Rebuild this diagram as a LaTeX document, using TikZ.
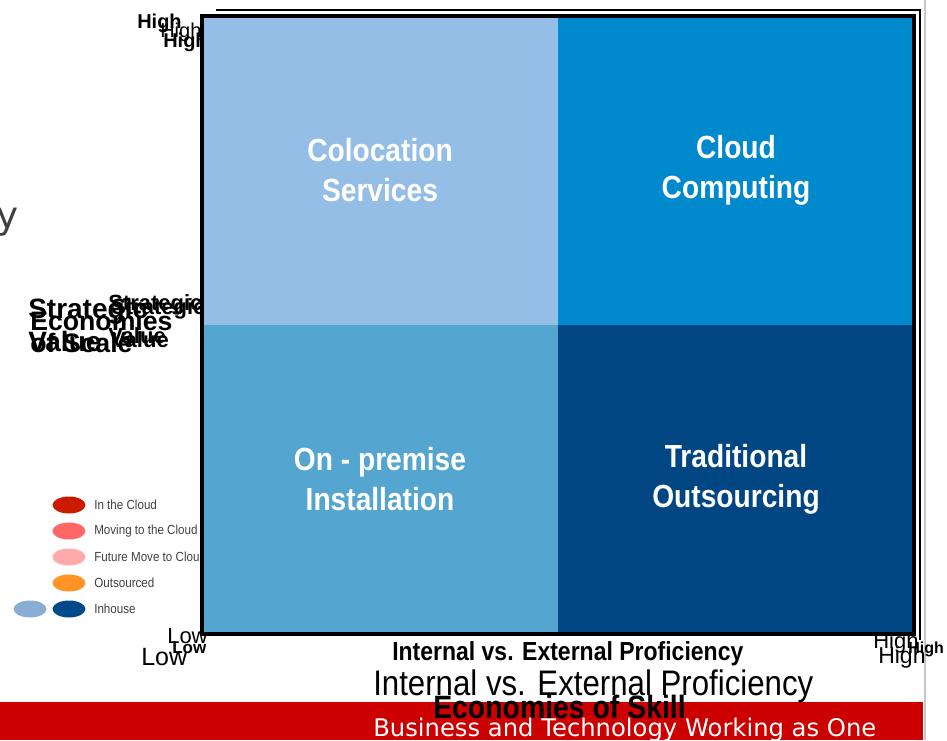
\documentclass[tikz,border=0pt]{standalone}
\usepackage{fontspec}
\setmainfont{Liberation Sans}
\newfontfamily\narrowfont[FakeStretch=0.88]{Liberation Sans}
\newfontfamily\slidefont{DejaVu Sans}
\usetikzlibrary{positioning,shapes.geometric}

\definecolor{colocblue}{HTML}{94BEE6}
\definecolor{cloudblue}{HTML}{0089CC}
\definecolor{prembue}{HTML}{54A5CF}
\definecolor{outsrcblue}{HTML}{004682}
\definecolor{slidered}{HTML}{CC0000}
\definecolor{slidegray}{HTML}{404040}
\definecolor{legcloud}{HTML}{CC1A00}
\definecolor{legmoving}{HTML}{FF6666}
\definecolor{legfuture}{HTML}{FFAAAA}
\definecolor{legoutsrc}{HTML}{FF9326}
\definecolor{leginhouse}{HTML}{004A8A}
\definecolor{leginlight}{HTML}{88AED4}

\begin{document}
\begin{tikzpicture}[x=0.75pt,y=-0.75pt,
	quadnode/.style={rectangle,inner sep=0pt,outer sep=0pt,minimum width=267pt,minimum height=231.5pt,text=white,align=center,font=\narrowfont\bfseries\fontsize{24}{30}\selectfont},
	legdot/.style={ellipse,inner sep=0pt,outer sep=0pt,minimum width=24.75pt,minimum height=12.75pt},
	legtext/.style={inner sep=0pt,text=slidegray,font=\narrowfont\fontsize{9.9}{9.9}\selectfont},
	lbl/.style={inner sep=0pt,anchor=base west,align=left}]
		\useasboundingbox (0,0) rectangle (947,740);
		% slide edge and footer band
		\draw[black!22,line width=2pt] (925,0) -- (925,740);
		\fill[slidered] (0,702) rectangle (923,740);
		\node[lbl,anchor=base east,text=slidegray,font=\slidefont\fontsize{28}{28}\selectfont] (titletail) at (19,228) {y};
		% y axis labels (base = last line)
		\node[lbl,font=\bfseries\fontsize{21}{24.75}\selectfont] (stratbig) at (28,351) {Strategic\\Value};
		\node[lbl,font=\bfseries\fontsize{20}{16.5}\selectfont] (scalebig) at (30,352) {Economies\\of Scale};
		\node[lbl,font=\bfseries\fontsize{16.5}{24.75}\selectfont] (stratsmall) at (108,343) {Strategic\\Value};
		\node[lbl,font=\bfseries\fontsize{16.5}{24.75}\selectfont] (stratghost) at (111,347) {Strategic\\Value};
		\node[lbl,font=\bfseries\fontsize{15}{15}\selectfont] (hightop) at (137,28) {High};
		\node[lbl,font=\fontsize{15}{15}\selectfont] (hightopb) at (160,37) {High};
		\node[lbl,font=\bfseries\fontsize{15}{15}\selectfont] (hightopc) at (163,47) {High};
		\node[lbl,font=\fontsize{16.5}{16.5}\selectfont] (lowa) at (167,643) {Low};
		\node[lbl,font=\bfseries\fontsize{12.75}{12.75}\selectfont] (lowb) at (172,653) {Low};
		\node[lbl,font=\fontsize{18.75}{18.75}\selectfont] (lowc) at (141,665) {Low};
		\node[lbl,font=\fontsize{16.5}{16.5}\selectfont] (higha) at (873,648) {High};
		% legend
		\node[legdot,fill=legcloud] (cloudleg) at (69,505) {};
		\node[legdot,fill=legmoving] (movingleg) at (69,531) {};
		\node[legdot,fill=legfuture] (futureleg) at (69,557) {};
		\node[legdot,fill=legoutsrc] (outsrcleg) at (69,583) {};
		\node[legdot,fill=leginhouse] (inhouseleg) at (69,609) {};
		\node[legdot,fill=leginlight,left=4.5pt of inhouseleg] (inlightleg) {};
		\node[legtext,right=6.4pt of cloudleg] {In the Cloud};
		\node[legtext,right=6.4pt of movingleg] {Moving to the Cloud};
		\node[legtext,right=6.4pt of futureleg] {Future Move to Cloud};
		\node[legtext,right=6.4pt of outsrcleg] {Outsourced};
		\node[legtext,right=6.4pt of inhouseleg] {Inhouse};
		% matrix
		\node[quadnode,fill=colocblue] (colo) at (380,170.5) {Colocation\\Services};
		\node[quadnode,fill=cloudblue,right=0pt of colo] (cloud) {Cloud\\Computing};
		\node[quadnode,fill=prembue,below=0pt of colo] (onprem) {On - premise\\Installation};
		\node[quadnode,fill=outsrcblue,right=0pt of onprem] (outsrc) {Traditional\\Outsourcing};
		\coordinate (frameback) at (216,10);
		\coordinate (frameend) at (920,640);
		\draw[line width=2pt] (frameback) -| (frameend);
		\draw[line width=3pt] (colo.north west) rectangle (outsrc.south east);
		% x axis labels
		\node[lbl,font=\bfseries\fontsize{12}{12}\selectfont] (highb) at (908,653) {High};
		\node[lbl,font=\fontsize{17.25}{17.25}\selectfont] (highc) at (878,663) {High};
		\node[lbl,font=\narrowfont\bfseries\fontsize{19.6}{19.6}\selectfont] (profbold) at (392,660) {Internal vs. External Proficiency};
		\node[lbl,font=\narrowfont\fontsize{26.6}{26.6}\selectfont] (profreg) at (373,695) {Internal vs. External Proficiency};
		\node[lbl,font=\narrowfont\bfseries\fontsize{24.2}{24.2}\selectfont] (skill) at (433,718) {Economies of Skill};
		\node[lbl,text=white,font=\slidefont\fontsize{18.2}{18.2}\selectfont] (tagline) at (373,736) {Business and Technology Working as One};
	\end{tikzpicture}
\end{document}
